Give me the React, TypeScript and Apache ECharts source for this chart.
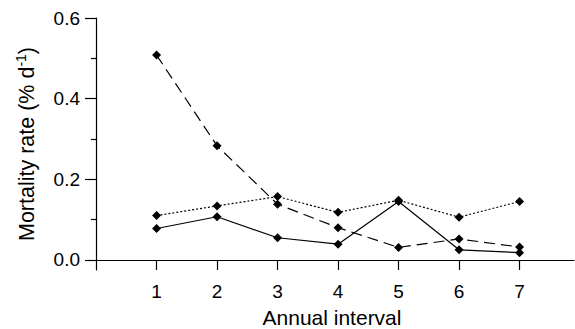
import React, { useEffect, useRef } from "react";
import * as echarts from "echarts";

const intervals = [1, 2, 3, 4, 5, 6, 7];
const dashedSeries = [0.508, 0.283, 0.138, 0.08, 0.031, 0.052, 0.032];
const dottedSeries = [0.11, 0.134, 0.157, 0.118, 0.148, 0.106, 0.145];
const solidSeries = [0.078, 0.107, 0.055, 0.039, 0.145, 0.025, 0.018];
const yMajorTicks = [0, 0.2, 0.4, 0.6];
const yMinorTicks = [0.1, 0.3, 0.5];

const FONT = "Liberation Sans, Arial, Helvetica, sans-serif";

export default function App() {
  const ref = useRef<HTMLDivElement>(null);
  useEffect(() => {
    if (!ref.current) return;
    const chart = echarts.init(ref.current, undefined, { renderer: "svg" });
    const mk = (vals: number[], type: any, z: number) => ({
      type: "line",
      data: intervals.map((x, i) => [x, vals[i]]),
      symbol: "diamond",
      symbolSize: 9,
      lineStyle: { color: "#000", width: 1.2, type },
      itemStyle: { color: "#000" },
      z,
    });
    chart.setOption({
      animation: false,
      grid: { left: 90, right: 1, top: 18, bottom: 59, containLabel: false, outerBoundsMode: "none" },
      xAxis: {
        type: "value",
        min: -0.1,
        max: 7.9,
        axisLine: { onZero: true, lineStyle: { color: "#000", width: 1.2 } },
        axisTick: { show: true, customValues: intervals, length: 10, lineStyle: { color: "#000", width: 1.2 } },
        axisLabel: { customValues: intervals, color: "#000", fontSize: 19, fontFamily: FONT, margin: 12 },
        splitLine: { show: false },
        name: "Annual interval",
        nameLocation: "middle",
        nameGap: 37,
        nameTextStyle: { color: "#000", fontSize: 21, fontFamily: FONT },
      },
      yAxis: [
        {
          type: "value",
          min: -0.025,
          max: 0.6,
          offset: -6,
          axisLine: { show: true, onZero: false, lineStyle: { color: "#000", width: 1.2 } },
          axisTick: { show: true, customValues: yMajorTicks, length: 11, lineStyle: { color: "#000", width: 1.2 } },
          axisLabel: {
            customValues: yMajorTicks,
            color: "#000",
            fontSize: 19,
            fontFamily: FONT,
            margin: 16,
            formatter: (v: number) => v.toFixed(1),
          },
          splitLine: { show: false },
          name: "Mortality rate (% d{sup|-1})",
          nameLocation: "middle",
          nameGap: 57,
          nameTextStyle: {
            color: "#000",
            fontSize: 21.5,
            fontFamily: FONT,
            rich: { sup: { fontSize: 14, verticalAlign: "top", padding: [0, 0, 11, 0], fontFamily: FONT, color: "#000" } },
          },
        },
        {
          type: "value",
          min: -0.025,
          max: 0.6,
          position: "left",
          offset: -6,
          axisLine: { show: false, onZero: false },
          axisTick: { show: true, customValues: yMinorTicks, length: 5, lineStyle: { color: "#000", width: 1.2 } },
          axisLabel: { show: false },
          splitLine: { show: false },
        },
      ],
      series: [
        mk(dashedSeries, [11, 6], 3),
        mk(dottedSeries, [2, 2], 2),
        mk(solidSeries, "solid", 4),
      ],
    });
    return () => chart.dispose();
  }, []);
  return (
    <div
      ref={ref}
      style={{ position: "absolute", left: 0, top: 0, width: 575, height: 329, background: "#fff" }}
    />
  );
}
